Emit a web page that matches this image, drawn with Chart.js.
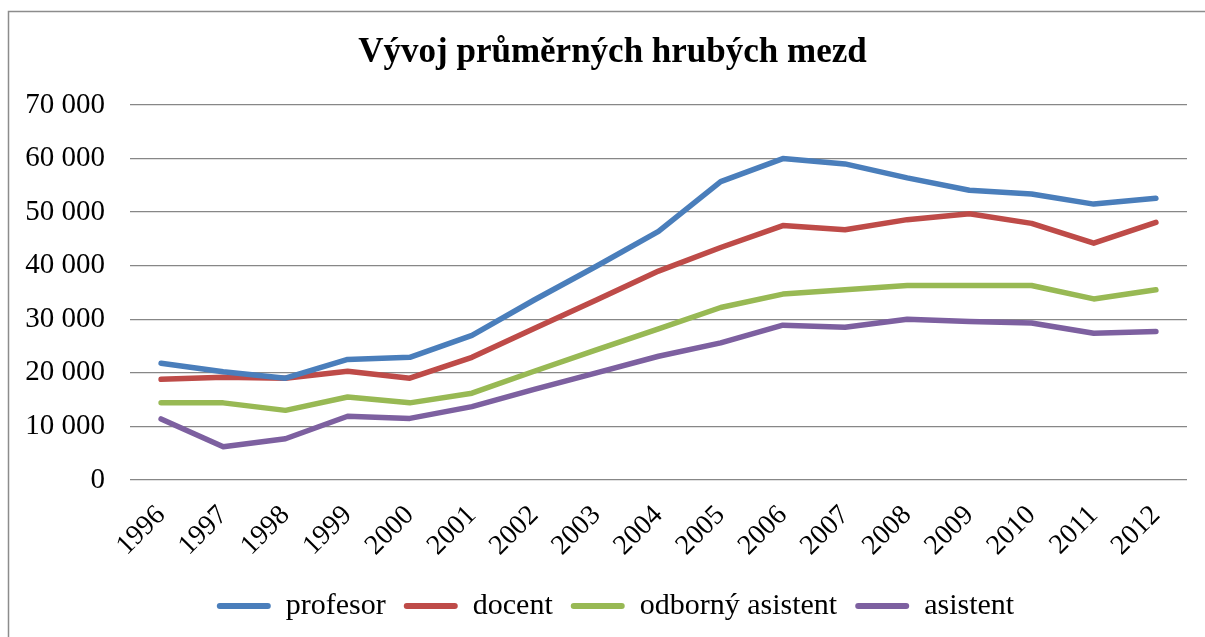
<!DOCTYPE html>
<html>
<head>
<meta charset="utf-8">
<script src="https://cdn.jsdelivr.net/npm/chart.js@4"></script>
<style>
  html, body { margin: 0; padding: 0; background: #fff; }
  #wrap { position: absolute; left: 0; top: 0; width: 1205px; height: 637px; }
</style>
</head>
<body>
<div id="wrap"><canvas id="myChart"></canvas></div>
<script>
const years = ['1996', '1997', '1998', '1999', '2000', '2001', '2002', '2003', '2004',
   '2005', '2006', '2007', '2008', '2009', '2010', '2011', '2012'];

const profesor = [21800, 20200, 19000, 22500, 22900, 27000, 33600, 39900, 46400,
   55700, 60000, 59000, 56400, 54100, 53400, 51500, 52600];
const docent = [18800, 19200, 19000, 20300, 19000, 22900, 28300, 33600, 39000,
   43400, 47500, 46700, 48600, 49700, 47900, 44200, 48100];
const odbornyAsistent = [14400, 14400, 13000, 15500, 14400, 16200, 20300, 24300, 28200,
   32200, 34700, 35500, 36300, 36300, 36300, 33800, 35500];
const asistent = [11400, 6200, 7700, 11900, 11500, 13700, 16900, 20000, 23100,
   25600, 28900, 28500, 30000, 29600, 29300, 27400, 27700];

const yTicks = [0, 10000, 20000, 30000, 40000, 50000, 60000, 70000];

const font = 'Liberation Serif';

function line(label, values, color) {
   return {
      label: label,
      data: values,
      borderColor: color,
      backgroundColor: color,
      borderWidth: 5.5,
      borderCapStyle: 'round',
      borderJoinStyle: 'round',
      pointRadius: 0,
      tension: 0
   }
}

// grey frame round the chart, like the Excel export
const frame = {
   id: 'frame',
   beforeDraw(chart) {
      const ctx = chart.ctx
      ctx.save()
      ctx.strokeStyle = '#8c8c8c'
      ctx.lineWidth = 1.5
      ctx.beginPath()
      ctx.moveTo(8.5, 637)
      ctx.lineTo(8.5, 11.5)
      ctx.lineTo(1205, 11.5)
      ctx.stroke()
      ctx.restore()
   }
}

// title and legend sit a bit right of the page centre in the original
const shiftBoxes = {
   id: 'shiftBoxes',
   afterLayout(chart) {
      chart.legend.left += 22
      chart.legend.right += 22
      chart.titleBlock.left += 19
      chart.titleBlock.right += 19
   }
}

const data = {
   labels: years,
   datasets: [
      line('profesor', profesor, '#4a7ebb'),
      line('docent', docent, '#be4b48'),
      line('odborný asistent', odbornyAsistent, '#98b954'),
      line('asistent', asistent, '#7d60a0')
   ]
};

const config = {
   type: 'line',
   data: data,
   plugins: [frame, shiftBoxes],
   options: {
      responsive: true,
      maintainAspectRatio: false,
      animation: false,
      layout: { padding: { left: 0, right: 18, top: 0, bottom: 6 } },
      plugins: {
         title: {
            display: true,
            text: 'Vývoj průměrných hrubých mezd',
            color: '#000',
            font: { family: font, size: 35, weight: 'bold', lineHeight: 1.2 },
            padding: { top: 32, bottom: 31 }
         },
         legend: {
            position: 'bottom',
            labels: {
               color: '#000',
               font: { family: font, size: 30 },
               boxWidth: 54,
               boxHeight: 6,
               padding: 18,
               useBorderRadius: true,
               borderRadius: 3,
               generateLabels: (chart) =>
                  Chart.defaults.plugins.legend.labels.generateLabels(chart)
                     .map(l => ({ ...l, lineWidth: 0 }))
            }
         },
         tooltip: { enabled: false }
      },
      scales: {
         x: {
            offset: true,
            grid: { display: false, drawTicks: false },
            border: { display: false },
            ticks: {
               color: '#000',
               font: { family: font, size: 28 },
               maxRotation: 45,
               minRotation: 45,
               padding: 19,
               autoSkip: false
            },
            afterFit: (scale) => { scale.height = 93 }
         },
         y: {
            min: 0,
            max: 70000,
            afterBuildTicks: (scale) => { scale.ticks = yTicks.map(v => ({ value: v })) },
            grid: { color: '#878787', lineWidth: 1.3, drawTicks: false },
            border: { display: false },
            ticks: {
               color: '#000',
               font: { family: font, size: 29 },
               padding: 25,
               callback: (v) => v === 0 ? '0' : (v / 1000) + ' 000'
            },
            afterFit: (scale) => { scale.width = 130 }
         }
      }
   }
}

const myChart = new Chart(
   document.getElementById('myChart'),
   config
);
</script>
</body>
</html>
